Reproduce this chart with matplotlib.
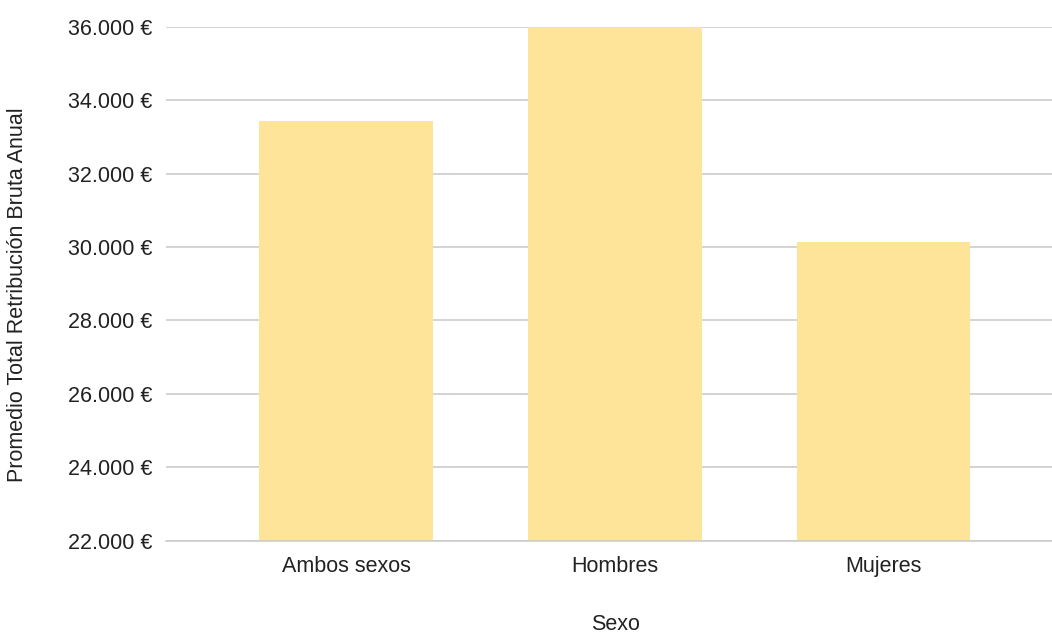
import matplotlib.pyplot as plt
from matplotlib.ticker import FuncFormatter

# Average annual gross pay by sex
categorias = ["Ambos sexos", "Hombres", "Mujeres"]
retribucion = [33430, 36200, 30145]

plt.rcParams['font.family'] = ['Liberation Sans', 'DejaVu Sans']

fig = plt.figure(figsize=(10.52, 6.34), dpi=100)
ax = fig.add_axes([166 / 1052, 1 - 540.7 / 634, 1 - 166 / 1052, (540.7 - 26.7) / 634])

x = range(len(categorias))
ax.bar(x, retribucion, width=0.646, color='#FEE498', zorder=2)

ax.set_ylim(22000, 36000)
ax.set_xlim(-0.67, 2.627)
ax.set_yticks(range(22000, 36001, 2000))
ax.yaxis.set_major_formatter(FuncFormatter(lambda v, _: f"{int(v):,}".replace(',', '.') + " €"))
ax.set_xticks(list(x))
ax.set_xticklabels(categorias)

ax.grid(axis='y', color='#cccccc', linewidth=1.2, zorder=0)
for side in ['top', 'right', 'left']:
    ax.spines[side].set_visible(False)
ax.spines['bottom'].set_color('#cccccc')
ax.spines['bottom'].set_linewidth(1.2)
ax.tick_params(axis='both', length=0, labelsize=15.5, colors='#222222')
ax.tick_params(axis='y', pad=10)
ax.tick_params(axis='x', pad=11)

ax.set_xlabel("Sexo", fontsize=15.5, color='#222222')
ax.set_ylabel("Promedio Total Retribución Bruta Anual", fontsize=15.5, color='#222222')
# place axis titles in figure pixels
ax.xaxis.set_label_coords(615 / 1052, 1 - 625 / 634, transform=fig.transFigure)
ax.xaxis.label.set_va('center')
ax.yaxis.set_label_coords(18 / 1052, 1 - 295 / 634, transform=fig.transFigure)
ax.yaxis.label.set_va('center')

fig.savefig("out.png", dpi=100)
